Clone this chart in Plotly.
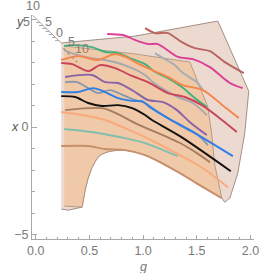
import plotly.graph_objects as go

edge_x = [1.733, 1.557, 1.343, 1.204, 1.111, 1.018, .925, .832, .767, .692, .646, .599, .562, .525, .488, .46, .432]
edge_y = [-3.30, -2.79, -2.14, -1.72, -1.49, -1.30, -1.16, -1.07, -1.07, -1.12, -1.19, -1.30, -1.53, -1.86, -2.37, -2.93, -3.72]
back_top_x = [.237, .925, 1.696, 1.984, 1.947, 1.882, 1.808, 1.761]
back_top_y = [3.91, 4.23, 4.93, 1.67, -.28, -2.14, -3.30, -3.49]
back_end_x = [.302, .237]
back_end_y = [-3.86, -3.81]
front_top_x = [.265, .925, 1.436, 1.603, 1.64, 1.668]
front_top_y = [3.77, 3.40, 3.02, .93, -.37, -1.77]
front_end_x = [.265]
front_end_y = [-3.67]

series = [
    ("lower", "#c88f6c", [.237, .488, .646, .832, 1.018, 1.343, 1.557, 1.733], [-.88, -.88, -1.02, -1.07, -1.3, -2.14, -2.79, -3.3]),
    ("teal", "#7fbfae", [.265, .46, .646, .832, 1.018, 1.324], [-.09, -.19, -.33, -.51, -.74, -1.35]),
    ("peach", "#f9a97b", [.237, .432, .646, .832, 1.018, 1.343, 1.557, 1.789], [.7, .56, .33, -.05, -.47, -1.3, -1.91, -2.79]),
    ("brown", "#a77c60", [.274, .618, .767, .925, 1.343, 1.501, 1.622], [.79, .88, .6, .19, -.74, -1.21, -1.63]),
    ("grayblue", "#8899ac", [.274, .386, .488, .581, .692, .813, .925, 1.018, 1.138, 1.389, 1.51, 1.603], [2.09, 2.09, 1.81, 1.58, 1.72, 1.49, 1.26, 1.12, .7, -.05, -.37, -.84]),
    ("grayb", "#a3aab0", [.265, .386, .507, .646, .767, .897, 1.018, 1.092, 1.204, 1.343, 1.464, 1.594], [3.58, 3.35, 3.21, 3.12, 2.98, 2.74, 2.42, 2.09, 1.72, 1.35, 1.12, .56]),
    ("graya", "#a3aeb8", [1.111, 1.185, 1.296, 1.371, 1.501, 1.557], [3.44, 3.21, 2.88, 2.51, 2.09, 1.72]),
    ("purple", "#8a62a8", [.274, .525, .646, .767, .897, 1.045, 1.185, 1.315, 1.436, 1.594], [2.33, 2.42, 2.09, 2.05, 1.72, 1.26, 1.16, .79, .23, -.37]),
    ("green", "#3fb27f", [.265, .349, .525, .646, .767, .878, 1.018, 1.111, 1.231, 1.361, 1.482, 1.594], [3.77, 3.81, 3.72, 3.49, 3.44, 3.21, 2.93, 2.56, 2.28, 1.86, 1.35, .93]),
    ("orange", "#f5854a", [.237, .395, .581, .739, .86, .925, 1.083, 1.231, 1.371, 1.557, 1.761, 1.891], [3.12, 3.3, 3.12, 3.4, 3.21, 3.02, 2.65, 2.33, 1.95, 1.72, .93, .42]),
    ("crimson", "#c8455a", [.237, .339, .488, .599, .739, .878, 1.045, 1.231, 1.389, 1.547, 1.761, 1.873], [2.98, 2.93, 2.6, 2.88, 2.74, 2.42, 2.09, 1.58, 1.4, 1.02, .23, -.23]),
    ("blue", "#2e7de9", [.237, .395, .534, .646, .767, .925, .99, 1.064, 1.231, 1.436, 1.836], [1.63, 1.63, 1.81, 1.63, 1.35, 1.21, 1.21, .93, .42, -.14, -1.35]),
    ("black", "#111111", [.237, .367, .488, .618, .767, .897, 1.018, 1.083, 1.343, 1.817], [1.44, 1.4, 1.12, .98, 1.02, .88, .56, .33, -.42, -2.05]),
    ("magenta", "#dc3e96", [.665, .813, .925, 1.045, 1.138, 1.324, 1.464, 1.622, 1.808, 1.928], [4.33, 4.28, 4.05, 3.86, 3.86, 3.26, 3.16, 2.79, 2.05, 1.81]),
    ("darkred", "#b8655f", [1.018, 1.111, 1.231, 1.361, 1.482, 1.622, 1.761, 1.938], [4.6, 4.37, 4.37, 3.95, 3.67, 3.53, 3.02, 2.51]),
]

oblique_x = [-.033, .237]
oblique_y = [5.21, 3.91]
oblique_tick_x = [-.01, .02, .05, .08, .11, .14, .17, .2]
oblique_tick_y = [5.0, 4.86, 4.72, 4.58, 4.44, 4.3, 4.16, 4.02]
inner_x = [.256, .386]
inner_y = [3.67, 3.02]

axis_gray = "#a8a8a8"
label_gray = "#7a7a7a"
font = "Liberation Sans"

fig = go.Figure()
fig.add_trace(go.Scatter(x=back_top_x + edge_x + back_end_x, y=back_top_y + edge_y + back_end_y, mode="lines", fill="toself",
                         fillcolor="#ecdad1", line=dict(color="#9a8578", width=0.9)))
fig.add_trace(go.Scatter(x=front_top_x + edge_x + front_end_x, y=front_top_y + edge_y + front_end_y, mode="lines", fill="toself",
                         fillcolor="#f0c9a8", line=dict(color="#a98a78", width=0.8)))
for name, color, xs, ys in series:
    fig.add_trace(go.Scatter(x=xs, y=ys, mode="lines", name=name,
                             line=dict(color=color, width=1.9, shape="spline", smoothing=0.8)))
fig.add_trace(go.Scatter(x=oblique_x, y=oblique_y, mode="lines", line=dict(color=axis_gray, width=1)))
fig.add_trace(go.Scatter(x=oblique_tick_x, y=oblique_tick_y, mode="markers",
                         marker=dict(symbol="line-ew", size=3, line=dict(color=axis_gray, width=1))))
fig.add_trace(go.Scatter(x=inner_x, y=inner_y, mode="lines", line=dict(color="#b09880", width=1.5, dash="dot")))

notes = [
    ("10", .005, 1.038, label_gray, False),
    ("5", .074, .97, label_gray, False),
    ("0", .122, .92, label_gray, False),
    ("5", .18, .88, label_gray, False),
    ("10", .225, .85, "#8f7f70", False),
    ("y", -.052, .967, "#555555", True),
    ("5", -.024, .967, label_gray, False),
    ("x", -.075, .5, "#555555", True),
    ("g", .5, -.127, "#777777", True),
]
for text, x, y, color, ital in notes:
    fig.add_annotation(x=x, y=y, xref="paper", yref="paper", text=f"<i>{text}</i>" if ital else text, showarrow=False,
                       font=dict(family=font, size=12.5, color=color), xanchor="center", yanchor="middle")

fig.update_layout(
    width=271, height=273, showlegend=False, hovermode=False,
    paper_bgcolor="white", plot_bgcolor="white",
    margin=dict(l=31.7, r=16.7, t=15, b=34.3, autoexpand=False),
    font=dict(family=font, size=12.5, color=label_gray),
    xaxis=dict(range=[-.035, 2.033], tickmode="array", tickvals=[0, .5, 1, 1.5, 2], ticktext=["0.0", "0.5", "1.0", "1.5", "2.0"],
               ticks="inside", ticklen=4.5, tickcolor=axis_gray, tickwidth=1, showgrid=False, zeroline=False,
               showline=True, linecolor=axis_gray, linewidth=1,
               minor=dict(tickmode="array", tickvals=[.1 * i for i in range(21)], ticks="inside", ticklen=2.5, tickcolor=axis_gray, showgrid=False)),
    yaxis=dict(range=[-5.2, 5.21], tickmode="array", tickvals=[-5, 0], ticktext=["\u22125", "0"],
               ticks="inside", ticklen=4.5, tickcolor=axis_gray, tickwidth=1, showgrid=False, zeroline=False,
               showline=True, linecolor=axis_gray, linewidth=1,
               minor=dict(tickmode="array", tickvals=list(range(-5, 6)), ticks="inside", ticklen=2.5, tickcolor=axis_gray, showgrid=False)),
)
fig.write_html("out.html", config={"displayModeBar": False}, post_script="document.body.style.margin='0';")
